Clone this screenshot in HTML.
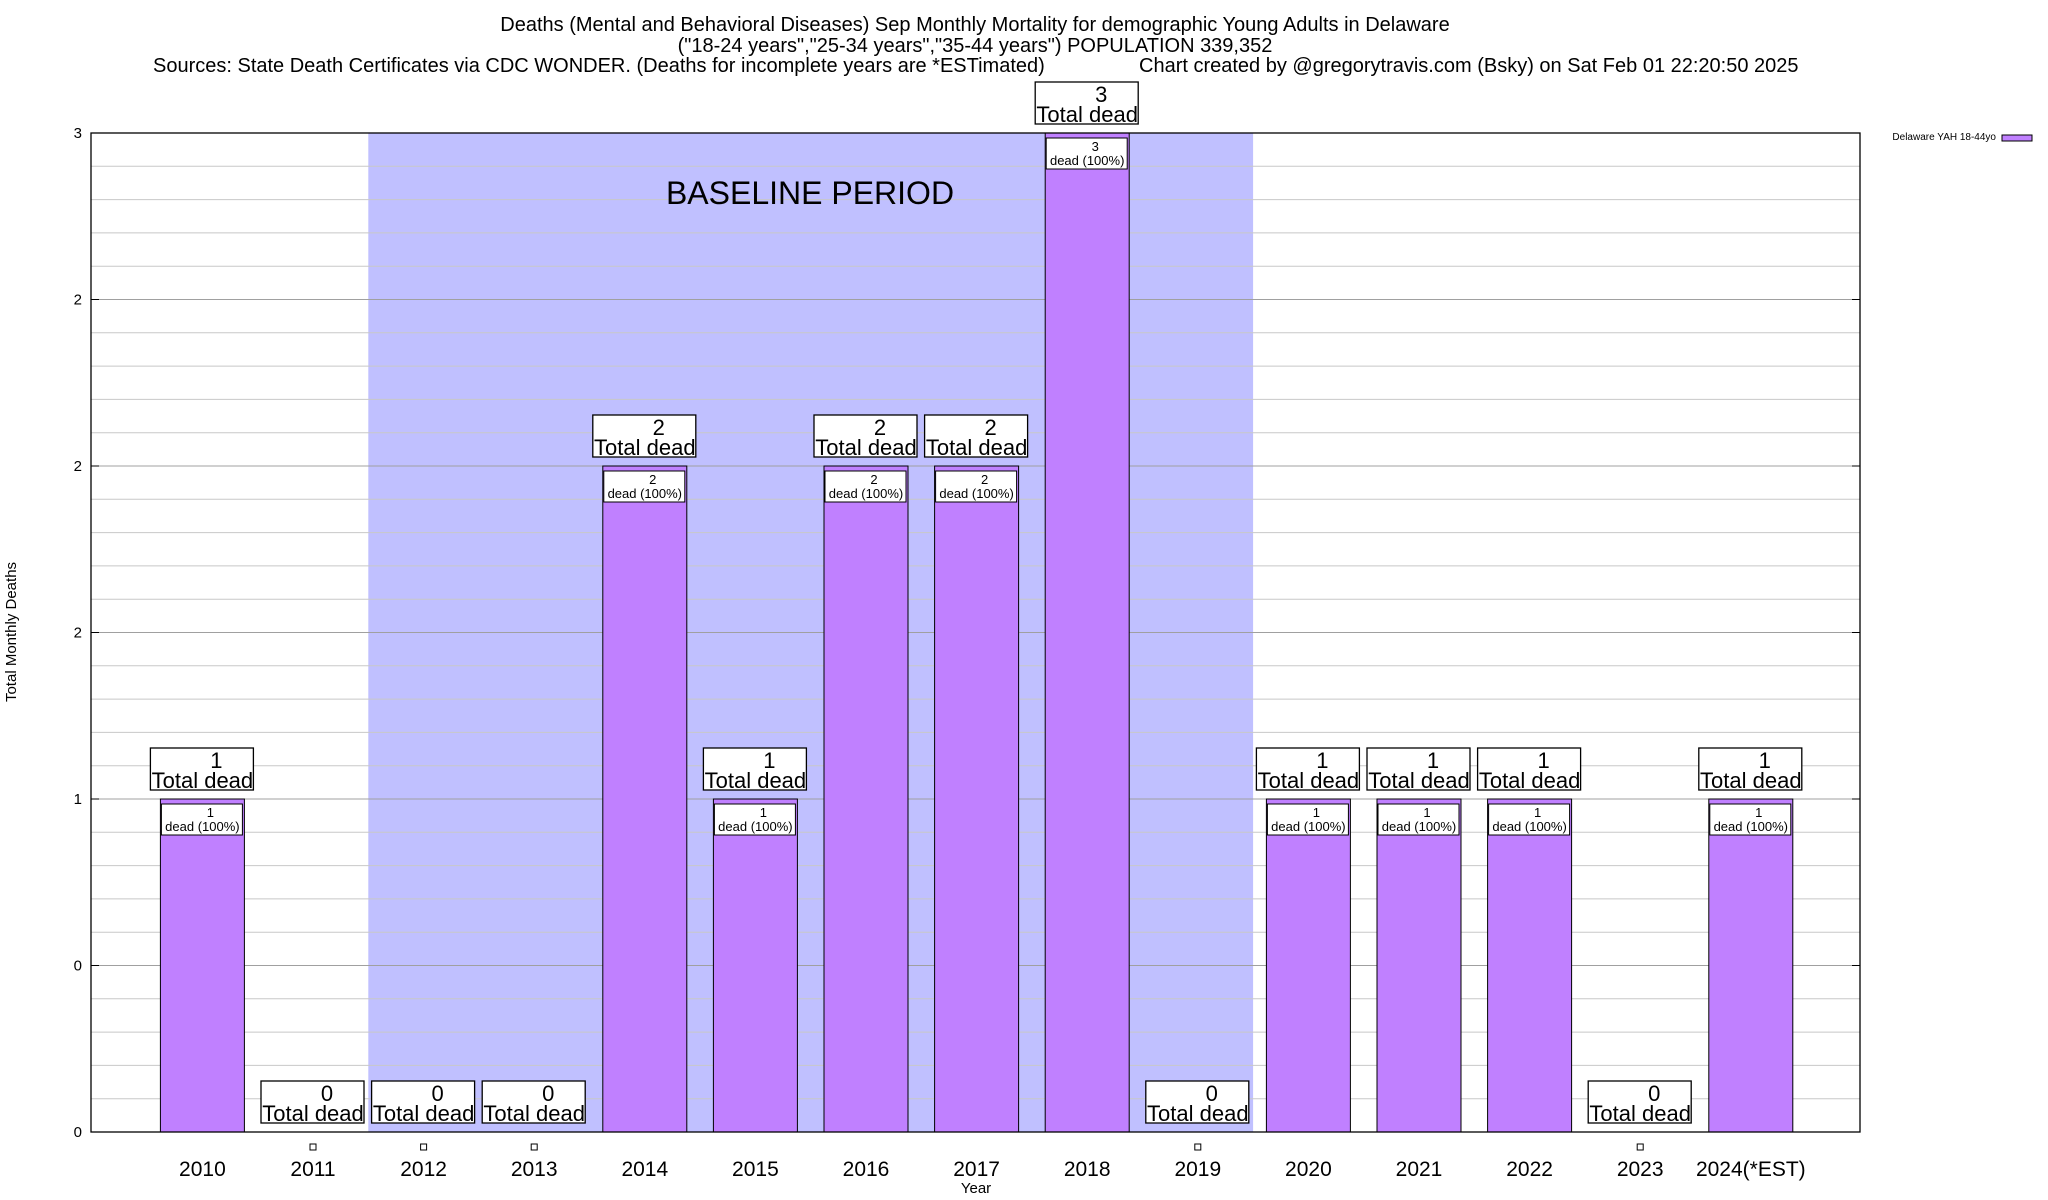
<!DOCTYPE html>
<html><head><meta charset="utf-8"><style>
body{margin:0;background:#fff}
svg{display:block;font-family:"Liberation Sans",sans-serif}
</style></head><body>
<svg id="chart" width="2048" height="1200" viewBox="0 0 2048 1200">
<text x="975" y="31" font-size="20" text-anchor="middle">Deaths (Mental and Behavioral Diseases) Sep Monthly Mortality for demographic Young Adults in Delaware</text>
<text x="975" y="52" font-size="20" text-anchor="middle">("18-24 years","25-34 years","35-44 years") POPULATION 339,352</text>
<text x="153" y="72" font-size="20">Sources: State Death Certificates via CDC WONDER. (Deaths for incomplete years are *ESTimated)</text>
<text x="1139" y="72" font-size="20">Chart created by @gregorytravis.com (Bsky) on Sat Feb 01 22:20:50 2025</text>
<g id="plot"></g>
<text x="16" y="632" font-size="15" text-anchor="middle" transform="rotate(-90 16 632)">Total Monthly Deaths</text>
<text x="976" y="1193" font-size="15" text-anchor="middle">Year</text>
<text x="1996" y="140" font-size="10" text-anchor="end">Delaware YAH 18-44yo</text>
<rect x="2002" y="135" width="30" height="6" fill="#c080ff" stroke="#000" stroke-width="1"/>
</svg>
<script>
const categories=["2010","2011","2012","2013","2014","2015","2016","2017","2018","2019","2020","2021","2022","2023","2024(*EST)"];
const values=[1,0,0,0,2,1,2,2,3,0,1,1,1,0,1];
const yTickValues=[0,0.5,1,1.5,2,2.5,3];
const yTickLabels=["0","0","1","2","2","2","3"];
const baselineStart=1.5, baselineEnd=9.5;
const L=91,R=1860,T=133,B=1132,ymax=3;
const step=110.6, x0=202.4;
const xs=i=>x0+i*step;
const ys=v=>B-(v/ymax)*(B-T);
const NS="http://www.w3.org/2000/svg";
const g=document.getElementById('plot');
function mk(t,a,p){const e=document.createElementNS(NS,t);for(const k in a)e.setAttribute(k,a[k]);(p||g).appendChild(e);return e;}
let sh=mk('rect',{x:xs(baselineStart),y:T,width:xs(baselineEnd)-xs(baselineStart),height:B-T,fill:'#c0c0ff'});


for(let k=1;k<30;k++){const v=k*0.1;const major=k%5===0;
 const l=mk('line',{x1:L,x2:R,y1:ys(v),y2:ys(v),stroke:major?'#a0a0a0':'#c8c8c8','stroke-width':1});
 
 }
let bt=mk('text',{x:810,y:204,'font-size':32,'text-anchor':'middle'});bt.textContent='BASELINE PERIOD';


yTickValues.forEach((v,i)=>{const t=mk('text',{x:82,y:ys(v)+5,'font-size':15,'text-anchor':'end'});t.textContent=yTickLabels[i];
 
 
 mk('line',{x1:L,x2:L+8,y1:ys(v),y2:ys(v),stroke:'#000'});mk('line',{x1:R,x2:R-8,y1:ys(v),y2:ys(v),stroke:'#000'});});
categories.forEach((c,i)=>{const v=values[i];const cx=xs(i);
 if(v>0){const r=mk('rect',{x:cx-42,y:ys(v),width:84,height:B-ys(v),fill:'#c080ff',stroke:'#000','stroke-width':1});
  
  
  mk('rect',{x:cx-41,y:ys(v)+5,width:81,height:31,fill:'#fff',stroke:'#000','stroke-width':1});
  let a=mk('text',{x:cx+8,y:ys(v)+18,'font-size':13,'text-anchor':'middle'});a.textContent=String(v);
  let b=mk('text',{x:cx,y:ys(v)+32,'font-size':13,'text-anchor':'middle'});b.textContent='dead (100%)';
  
  
 } else {
  mk('rect',{x:cx-3,y:B+12,width:6,height:6,fill:'#fff',stroke:'#000','stroke-width':1});
 }
 const by=ys(v)-9;
 const box=mk('rect',{x:cx-52,y:by-42,width:103,height:42,fill:'#fff',stroke:'#000','stroke-width':1.3});
 
 
 let n=mk('text',{x:cx+14,y:by-22,'font-size':22,'text-anchor':'middle'});n.textContent=String(v);
 let td=mk('text',{x:cx,y:by-2,'font-size':22,'text-anchor':'middle'});td.textContent='Total dead';
 let xl=mk('text',{x:cx,y:1176,'font-size':21,'text-anchor':'middle'});xl.textContent=c;
 
 
});
let f=mk('rect',{x:L,y:T,width:R-L,height:B-T,fill:'none',stroke:'#000','stroke-width':1.3});


</script>
</body></html>
